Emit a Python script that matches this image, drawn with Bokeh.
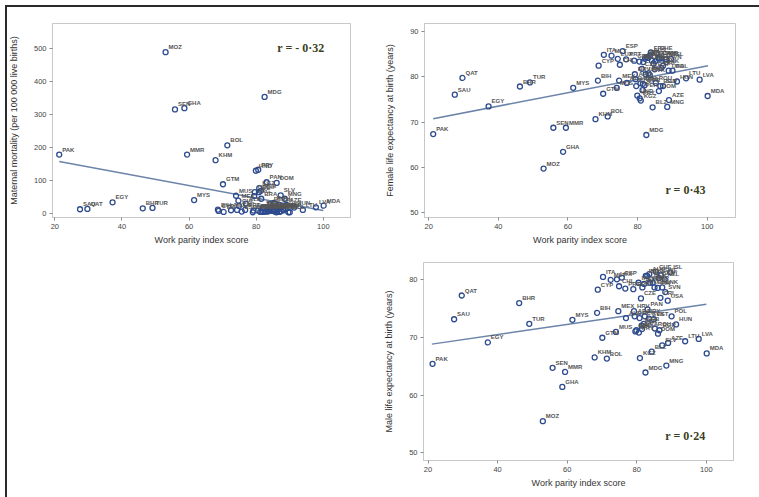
from bokeh.plotting import figure
from bokeh.layouts import column, row
from bokeh.models import ColumnDataSource, Range1d, Label, Spacer, FixedTicker, Div
from bokeh.embed import file_html
from bokeh.resources import INLINE
from bokeh.core.properties import value

# ---------------- data ----------------
codes = ["PAK", "SAU", "QAT", "EGY", "BHR", "TUR", "MOZ", "SEN", "GHA", "MMR",
         "MYS", "KHM", "BIH", "CYP", "GTM", "ITA", "BOL", "MLT", "LUX", "MUS",
         "MEX", "ESP", "CHL", "PRT", "ALB", "GRC", "HRV", "ARG", "HND", "COL",
         "PRY", "ECU", "KGZ", "BRA", "PER", "CZE", "DEU", "AUT", "IRL", "SRB",
         "URY", "ISR", "MDG", "PAN", "NOR", "AUS", "FRA", "SVK", "NLD", "BLZ",
         "GBR", "EST", "BEL", "ROU", "CHE", "CRI", "FIN", "CAN", "DOM", "BGR",
         "SWE", "DNK", "NZL", "SLV", "SVN", "USA", "MNG", "AZE", "ISL", "POL",
         "HUN", "LTU", "LVA", "MDA"]
wpi = [21.3, 27.5, 29.7, 37.2, 46.2, 49.1, 53.0, 55.8, 58.6, 59.4,
       61.5, 67.9, 68.6, 68.8, 70.1, 70.3, 71.4, 72.5, 74.3, 74.0,
       74.7, 75.7, 74.9, 76.7, 76.9, 79.0, 79.2, 79.4, 79.9, 79.6,
       80.6, 80.8, 80.9, 81.5, 81.4, 81.2, 81.6, 82.1, 80.5, 82.0,
       82.3, 82.6, 82.5, 83.1, 83.0, 83.6, 83.8, 83.5, 84.1, 84.3,
       84.6, 84.9, 85.1, 85.2, 85.5, 86.8, 86.0, 86.3, 86.1, 86.5,
       86.9, 87.3, 88.0, 87.3, 88.2, 88.9, 88.5, 89.0, 89.6, 90.0,
       91.3, 93.9, 97.8, 100.1]
mat_mort = [178, 12, 13, 33, 15, 16, 489, 315, 319, 178,
            40, 161, 11, 7, 88, 4, 206, 9, 10, 53,
            38, 5, 22, 10, 29, 3, 8, 52, 129, 64,
            132, 64, 76, 44, 68, 4, 6, 4, 8, 17,
            15, 5, 353, 94, 5, 6, 8, 6, 7, 28,
            9, 9, 7, 31, 5, 25, 3, 7, 92, 11,
            4, 6, 11, 54, 9, 14, 44, 25, 3, 3,
            17, 10, 18, 23]
fem_le = [67.4, 76.1, 79.8, 73.5, 77.9, 78.8, 59.8, 68.8, 63.5, 68.8,
          77.6, 70.7, 79.2, 82.5, 76.3, 84.9, 71.3, 84.7, 84.0, 77.6,
          79.2, 85.7, 82.7, 83.9, 78.7, 83.6, 80.6, 79.5, 75.9, 78.0,
          75.3, 78.6, 74.8, 78.5, 77.1, 81.8, 83.3, 84.0, 83.4, 78.2,
          80.6, 84.4, 67.2, 80.8, 84.2, 84.8, 85.4, 80.4, 83.6, 73.3,
          83.0, 81.7, 83.5, 78.7, 85.3, 82.0, 84.1, 84.1, 76.9, 78.0,
          84.1, 82.5, 83.9, 78.0, 83.3, 81.4, 73.4, 74.9, 84.0, 81.4,
          79.0, 79.7, 79.4, 75.8]
male_le = [65.4, 73.1, 77.2, 69.1, 75.9, 72.3, 55.5, 64.7, 61.4, 64.0,
           73.0, 66.5, 74.2, 78.2, 69.9, 80.4, 66.3, 79.9, 80.0, 70.9,
           74.5, 80.3, 78.8, 78.4, 73.3, 78.3, 74.5, 73.6, 71.2, 71.0,
           70.8, 73.3, 66.4, 71.4, 72.0, 76.7, 78.6, 79.2, 79.4, 72.3,
           73.6, 80.6, 63.9, 74.8, 80.6, 80.9, 79.4, 73.2, 80.0, 67.5,
           79.4, 73.1, 78.6, 71.5, 81.3, 76.8, 78.5, 80.2, 70.6, 71.2,
           80.7, 78.6, 80.0, 68.6, 77.8, 76.3, 65.1, 69.0, 81.2, 73.6,
           72.2, 69.3, 69.7, 67.2]

# fitted lines as drawn in the picture (end points)
mm_fit_x = [21.3, 100.0]
mm_fit_y = [157, 8]
fle_fit_x = [21.3, 100.2]
fle_fit_y = [70.8, 82.5]
mle_fit_x = [21.1, 100.0]
mle_fit_y = [68.8, 75.7]

r_texts = ["r = - 0\u00b732", "r = 0\u00b743", "r = 0\u00b724"]
x_ticks = [20, 40, 60, 80, 100]
mm_ticks = [0, 100, 200, 300, 400, 500]
fle_ticks = [50, 60, 70, 80, 90]
mle_ticks = [50, 60, 70, 80]

x_title = "Work parity index score"
y_titles = ["Maternal mortality (per 100 000 live births)",
            "Female life expectancy at birth (years)",
            "Male life expectancy at birth (years)"]

# ---------------- styling ----------------
SANS = "Liberation Sans"
POINT = "#2d4b8e"
FIT = "#6b84a8"
FRAME = "#c8c8c8"


def make_fig(w, h, ml, mr, mt, mb, xr, yr, yticks, ylab, yvals, fx, fy, rtxt, rx, ry):
    p = figure(width=w, height=h, output_backend="svg", toolbar_location=None,
               x_range=Range1d(*xr), y_range=Range1d(*yr),
               min_border_left=ml, min_border_right=mr,
               min_border_top=mt, min_border_bottom=mb)
    p.xgrid.visible = False
    p.ygrid.visible = False
    p.outline_line_color = FRAME
    p.outline_line_width = 1
    p.background_fill_color = "white"
    p.border_fill_color = "white"
    p.xaxis.ticker = FixedTicker(ticks=x_ticks)
    p.yaxis.ticker = FixedTicker(ticks=yticks)
    for ax in (p.xaxis[0], p.yaxis[0]):
        ax.axis_line_color = FRAME
        ax.major_tick_line_color = "#8a8a8a"
        ax.major_tick_out = 3
        ax.major_tick_in = 0
        ax.minor_tick_line_color = None
        ax.major_label_text_font = SANS
        ax.major_label_text_font_size = "7.5px"
        ax.major_label_text_color = "#444444"
        ax.major_label_standoff = 3
        ax.axis_label_text_font = SANS
        ax.axis_label_text_font_size = "9px"
        ax.axis_label_text_font_style = "normal"
        ax.axis_label_text_color = "#333333"
    p.xaxis.axis_label = x_title
    p.xaxis.axis_label_standoff = 3
    p.yaxis.axis_label = ylab
    p.yaxis.axis_label_standoff = 12

    src = ColumnDataSource(dict(x=wpi, y=yvals, code=codes))
    p.line(fx, fy, line_color=FIT, line_width=1.5)
    p.scatter("x", "y", source=src, marker="circle", size=5,
              fill_color=None, line_color=POINT, line_width=1.3)
    p.text("x", "y", text="code", source=src, text_font=value(SANS),
           text_font_size="6px", text_font_style="bold", text_color="#555555",
           text_baseline="middle", text_align="left", x_offset=3, y_offset=-5)
    p.add_layout(Label(x=rx, y=ry, text=rtxt, text_font="Liberation Serif",
                       text_font_style="bold", text_font_size="12px",
                       text_color="#3b3f22", text_baseline="middle"))
    return p


f1 = make_fig(370, 258, 52, 20, 23, 41, (19.3, 108.1), (-13, 576), mm_ticks,
              y_titles[0], mat_mort, mm_fit_x, mm_fit_y, r_texts[0], 86.3, 503)
f2 = make_fig(389, 258, 54, 24, 23, 40, (18.8, 108.1), (49.0, 91.8), fle_ticks,
              y_titles[1], fem_le, fle_fit_x, fle_fit_y, r_texts[1], 88.0, 55.1)
f3 = make_fig(389, 239, 53, 26, 4, 37, (18.7, 107.8), (48.7, 82.9), mle_ticks,
              y_titles[2], male_le, mle_fit_x, mle_fit_y, r_texts[2], 88.2, 52.9)

frame_box = Div(text="", width=759, height=497,
                styles={"position": "absolute", "left": "0px", "top": "0px",
                        "width": "759px", "height": "497px",
                        "border": "2px solid #2a2a2a", "box-sizing": "border-box",
                        "z-index": "10", "pointer-events": "none"})

layout = column(row(f1, f2), row(Spacer(width=370, height=239), f3), frame_box)
layout.styles = {"position": "relative"}

open("out.html", "w").write(file_html(layout, INLINE))
